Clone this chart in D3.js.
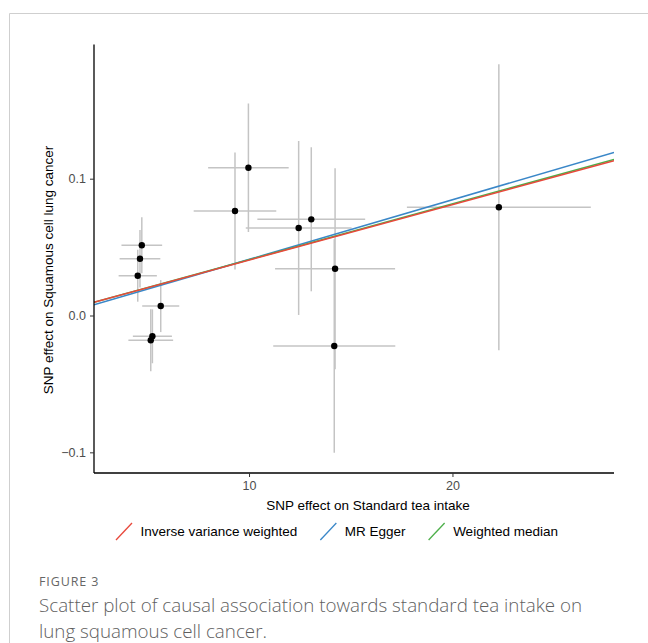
<!DOCTYPE html>
<html>
<head>
<meta charset="utf-8">
<script src="https://cdn.jsdelivr.net/npm/d3@7"></script>
<style>
  body { margin: 0; background: #fff; }
  svg { display: block; }
</style>
</head>
<body>
<div id="chart"></div>
<script>
// SNP estimates
const snpBx = [4.73, 4.64, 4.53, 5.66, 5.25, 5.17, 9.97, 9.31, 12.44, 13.06, 14.23, 14.19, 22.28];
const snpBy = [0.0513, 0.0415, 0.0291, 0.0069, -0.0152, -0.0181, 0.108, 0.0764, 0.064, 0.0703, 0.0342, -0.0223, 0.0791];
const snpBxSe = [1.0, 1.0, 0.94, 0.91, 0.96, 1.1, 1.98, 2.03, 2.6, 2.65, 2.95, 3.0, 4.52];
const snpBySe = [0.0205, 0.021, 0.019, 0.019, 0.0197, 0.0227, 0.047, 0.0428, 0.0636, 0.0526, 0.0734, 0.078, 0.1045];

// MR fits
const methods = ["Inverse variance weighted", "MR Egger", "Weighted median"];
const slopes = [0.00405, 0.00436, 0.00408];
const intercepts = [0, -0.0026, 0];
const methodColors = ["#E8483B", "#3A87C8", "#4DAF4A"];

const xTicks = [10, 20];
const yTicks = [-0.1, 0.0, 0.1];

const width = 648;
const height = 643;
const panel = { left: 94, right: 614, top: 44.6, bottom: 473 };

const svg = d3
  .select("#chart")
  .append("svg")
  .attr("width", width)
  .attr("height", height);

// outer frame (only left and top edges visible)
svg.append("path")
  .attr("d", `M9.5,${height} V13.5 H${width}`)
  .attr("fill", "none")
  .attr("stroke", "#cfcfcf")
  .attr("stroke-width", 1);

const x = d3.scaleLinear().domain([2.38, 27.94]).range([panel.left, panel.right]);
const y = d3.scaleLinear().domain([-0.1151, 0.198]).range([panel.bottom, panel.top]);

const data = snpBx.map((d, i) => ({ bx: d, by: snpBy[i], sx: snpBxSe[i], sy: snpBySe[i] }));

svg.append("clipPath").attr("id", "clip")
  .append("rect")
  .attr("x", panel.left).attr("y", panel.top)
  .attr("width", panel.right - panel.left)
  .attr("height", panel.bottom - panel.top);

const plot = svg.append("g").attr("clip-path", "url(#clip)");

// vertical error bars
plot.append("g")
  .selectAll("line")
  .data(data)
  .join("line")
  .attr("x1", (d) => x(d.bx))
  .attr("x2", (d) => x(d.bx))
  .attr("y1", (d) => y(d.by - d.sy))
  .attr("y2", (d) => y(d.by + d.sy))
  .attr("stroke", "#c4c4c4")
  .attr("stroke-width", 1.5);

// horizontal error bars
plot.append("g")
  .selectAll("line")
  .data(data)
  .join("line")
  .attr("x1", (d) => x(d.bx - d.sx))
  .attr("x2", (d) => x(d.bx + d.sx))
  .attr("y1", (d) => y(d.by))
  .attr("y2", (d) => y(d.by))
  .attr("stroke", "#c4c4c4")
  .attr("stroke-width", 1.5);

// points
plot.append("g")
  .selectAll("circle")
  .data(data)
  .join("circle")
  .attr("cx", (d) => x(d.bx))
  .attr("cy", (d) => y(d.by))
  .attr("r", 3.2)
  .attr("fill", "#000");

// regression lines, drawn so that red ends on top
const x0 = x.domain()[0];
const x1 = x.domain()[1];
[1, 2, 0].forEach((i) => {
  plot.append("line")
    .attr("x1", x(x0))
    .attr("x2", x(x1))
    .attr("y1", y(intercepts[i] + slopes[i] * x0))
    .attr("y2", y(intercepts[i] + slopes[i] * x1))
    .attr("stroke", methodColors[i])
    .attr("stroke-width", 1.5);
});

// axes
const fontFam = "'Liberation Sans', Arial, sans-serif";

const xAxis = svg.append("g")
  .attr("transform", `translate(0,${panel.bottom})`)
  .call(d3.axisBottom(x).tickValues(xTicks).tickSize(4).tickPadding(4).tickFormat(d3.format("d")));
const yAxis = svg.append("g")
  .attr("transform", `translate(${panel.left},0)`)
  .call(d3.axisLeft(y).tickValues(yTicks).tickSize(4).tickPadding(4).tickFormat(d3.format(".1f")));

[xAxis, yAxis].forEach((g) => {
  g.select(".domain").attr("stroke", "#000").attr("stroke-width", 1.3);
  g.selectAll(".tick line").attr("stroke", "#333").attr("stroke-width", 1);
  g.selectAll(".tick text")
    .attr("fill", "#4d4d4d")
    .attr("font-size", "12.5px")
    .attr("font-family", fontFam);
});
// re-draw domains without the end caps d3 adds
xAxis.select(".domain").attr("d", `M${panel.left},0H${panel.right}`);
yAxis.select(".domain").attr("d", `M0,${panel.top}V${panel.bottom}`);

// axis titles
svg.append("text")
  .attr("x", 368)
  .attr("y", 510)
  .attr("text-anchor", "middle")
  .attr("font-family", fontFam)
  .attr("font-size", "13.5px")
  .attr("fill", "#000")
  .text("SNP effect on Standard tea intake");

svg.append("text")
  .attr("transform", "translate(53,270) rotate(-90)")
  .attr("text-anchor", "middle")
  .attr("font-family", fontFam)
  .attr("font-size", "13.5px")
  .attr("fill", "#000")
  .text("SNP effect on Squamous cell lung cancer");

// legend
const legend = svg.append("g").attr("transform", "translate(116,531)");
let lx = 0;
methods.forEach((m, i) => {
  const item = legend.append("g").attr("transform", `translate(${lx},0)`);
  item.append("line")
    .attr("x1", 0).attr("y1", 9)
    .attr("x2", 16).attr("y2", -8)
    .attr("stroke", methodColors[i])
    .attr("stroke-width", 1.3);
  const t = item.append("text")
    .attr("x", 24.5)
    .attr("y", 5)
    .attr("font-family", fontFam)
    .attr("font-size", "13.5px")
    .attr("fill", "#000")
    .text(m);
  lx += 24.5 + t.node().getComputedTextLength() + 23;
});

// caption
svg.append("text")
  .attr("x", 39)
  .attr("y", 586)
  .attr("font-family", "'Open Sans', sans-serif")
  .attr("font-size", "12.5px")
  .attr("letter-spacing", "0.9px")
  .attr("fill", "#666")
  .text("FIGURE 3");

const captionLines = [
  "Scatter plot of causal association towards standard tea intake on",
  "lung squamous cell cancer."
];
svg.append("g")
  .selectAll("text")
  .data(captionLines)
  .join("text")
  .attr("x", 39)
  .attr("y", (d, i) => 612 + i * 26)
  .attr("font-family", "'Open Sans', sans-serif")
  .attr("font-weight", 300)
  .attr("font-size", "18.8px")
  .attr("fill", "#5f5f5f")
  .text((d) => d);
</script>
</body>
</html>
